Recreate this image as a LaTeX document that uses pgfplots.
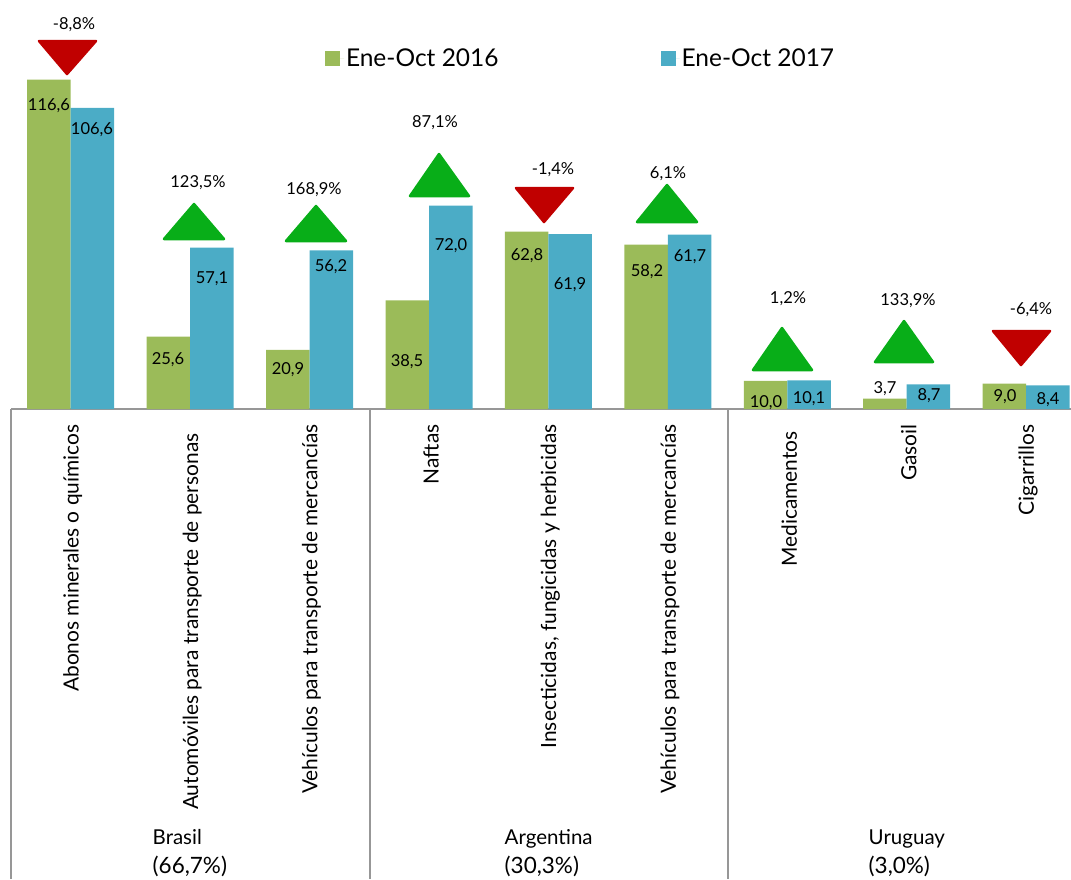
\documentclass[border=0pt]{standalone}
\usepackage{pgfplots}
\pgfplotsset{compat=1.18}
\usepackage{fontspec}
\setmainfont{Lato}
\definecolor{gA}{HTML}{9BBB59}
\definecolor{bA}{HTML}{4BACC6}
\definecolor{upG}{HTML}{08AE18}
\definecolor{dnR}{HTML}{C00000}
\definecolor{lineG}{HTML}{979797}
\newcommand{\fs}[1]{\fontsize{#1}{#1}\selectfont}
\begin{document}
\begin{tikzpicture}[x=1pt,y=1pt]
\path[use as bounding box] (0,-470) rectangle (1071,409);
\begin{axis}[
  at={(11pt,0pt)},anchor=south west,
  scale only axis,width=1060pt,height=409pt,
  xmin=-0.5,xmax=8.375,ymin=0,ymax=144.8,
  ybar=0pt,bar width=43.5pt,
  axis y line=none,axis x line*=bottom,
  axis line style={draw=lineG,line width=2pt,-},
  xtick={0,1,2,3,4,5,6,7,8},
  xticklabels={Abonos minerales o químicos,Automóviles para transporte de personas\rule{9pt}{0pt},Vehículos para transporte de mercancías,Naftas,{Insecticidas, fungicidas y herbicidas},Vehículos para transporte de mercancías,Medicamentos\rule{7pt}{0pt},Gasoil,Cigarrillos},
  major tick length=0pt,
  xticklabel style={rotate=90,anchor=east,font=\fs{20.9},yshift=-2pt},
  xticklabel shift=12pt,
  legend columns=2,
  legend style={draw=none,fill=none,at={(314pt,350.5pt)},anchor=west,inner sep=0pt,outer sep=0pt,
    font=\fs{24.5},/tikz/every even column/.append style={column sep=160pt}},
  legend image code/.code={\path (0pt,0pt) -- (19pt,0pt);\fill[#1] (0pt,-7.5pt) rectangle (15pt,7.5pt);},
]
\addplot[fill=gA,draw=none] coordinates {(0,116.6)(1,25.6)(2,20.9)(3,38.5)(4,62.8)(5,58.2)(6,10.0)(7,3.7)(8,9.0)};
\addplot[fill=bA,draw=none] coordinates {(0,106.6)(1,57.1)(2,56.2)(3,72.0)(4,61.9)(5,61.7)(6,10.1)(7,8.7)(8,8.4)};
\legend{Ene-Oct 2016,Ene-Oct 2017}
\end{axis}
\begin{axis}[
  at={(0pt,0pt)},anchor=south west,
  scale only axis,width=1071pt,height=409pt,
  xmin=0,xmax=1071,ymin=0,ymax=409,y dir=reverse,
  hide axis,clip=false,
]
\addplot[draw=lineG,line width=2pt] coordinates {(11,409)(11,879)};
\addplot[draw=lineG,line width=2pt] coordinates {(370,409)(370,879)};
\addplot[draw=lineG,line width=2pt] coordinates {(728,409)(728,879)};
% triangles
\addplot[fill=dnR,draw=dnR,line width=2.5pt,line join=round] coordinates {(39,41)(96,41)(67,74)} -- cycle;
\addplot[fill=upG,draw=upG,line width=2.5pt,line join=round] coordinates {(164,239)(224,239)(194,204)} -- cycle;
\addplot[fill=upG,draw=upG,line width=2.5pt,line join=round] coordinates {(286,241)(346,241)(316,206)} -- cycle;
\addplot[fill=upG,draw=upG,line width=2.5pt,line join=round] coordinates {(410,196)(469,196)(439,154)} -- cycle;
\addplot[fill=dnR,draw=dnR,line width=2.5pt,line join=round] coordinates {(516,188)(573,188)(544,222)} -- cycle;
\addplot[fill=upG,draw=upG,line width=2.5pt,line join=round] coordinates {(637,222)(697,222)(667,185)} -- cycle;
\addplot[fill=upG,draw=upG,line width=2.5pt,line join=round] coordinates {(753,370)(812,370)(782,328)} -- cycle;
\addplot[fill=upG,draw=upG,line width=2.5pt,line join=round] coordinates {(875,362)(933,362)(904,321)} -- cycle;
\addplot[fill=dnR,draw=dnR,line width=2.5pt,line join=round] coordinates {(993,331)(1050,331)(1021,365)} -- cycle;
% percentages
\begin{scope}[every node/.style={font=\fs{16.5},inner sep=0pt,text=black,yshift=-1.5pt}]
\node at (axis cs:74,23) {-8,8\%};
\node at (axis cs:198,181) {123,5\%};
\node at (axis cs:314,188) {168,9\%};
\node at (axis cs:435,121) {87,1\%};
\node at (axis cs:553,168) {-1,4\%};
\node at (axis cs:668,172) {6,1\%};
\node at (axis cs:788,297) {1,2\%};
\node at (axis cs:908,299) {133,9\%};
\node at (axis cs:1031,308) {-6,4\%};
\end{scope}
% value labels
\begin{scope}[every node/.style={font=\fs{16.5},inner sep=0pt,text=black,yshift=-1.5pt}]
\node at (axis cs:49,104) {116,6};
\node at (axis cs:92,128) {106,6};
\node at (axis cs:168,358) {25,6};
\node at (axis cs:212,277) {57,1};
\node at (axis cs:288,368) {20,9};
\node at (axis cs:331,265) {56,2};
\node at (axis cs:407,360) {38,5};
\node at (axis cs:451,244) {72,0};
\node at (axis cs:527,254) {62,8};
\node at (axis cs:570,283) {61,9};
\node at (axis cs:647,270) {58,2};
\node at (axis cs:690,255) {61,7};
\node at (axis cs:766,401) {10,0};
\node at (axis cs:809,397) {10,1};
\node at (axis cs:885,387) {3,7};
\node at (axis cs:929,394) {8,7};
\node at (axis cs:1005,395) {9,0};
\node at (axis cs:1048,398) {8,4};
\end{scope}
% groups
\begin{scope}[every node/.style={font=\fs{20.5},inner sep=0pt,text=black,anchor=base west}]
\node at (axis cs:152.5,844) {Brasil};
\node[font=\fs{22.5}] at (axis cs:152.5,873) {(66,7\%)};
\node at (axis cs:504.5,844) {Argentina};
\node[font=\fs{22.5}] at (axis cs:504.5,873) {(30,3\%)};
\node at (axis cs:868.5,844) {Uruguay};
\node[font=\fs{22.5}] at (axis cs:868.5,873) {(3,0\%)};
\end{scope}
\end{axis}
\end{tikzpicture}
\end{document}
